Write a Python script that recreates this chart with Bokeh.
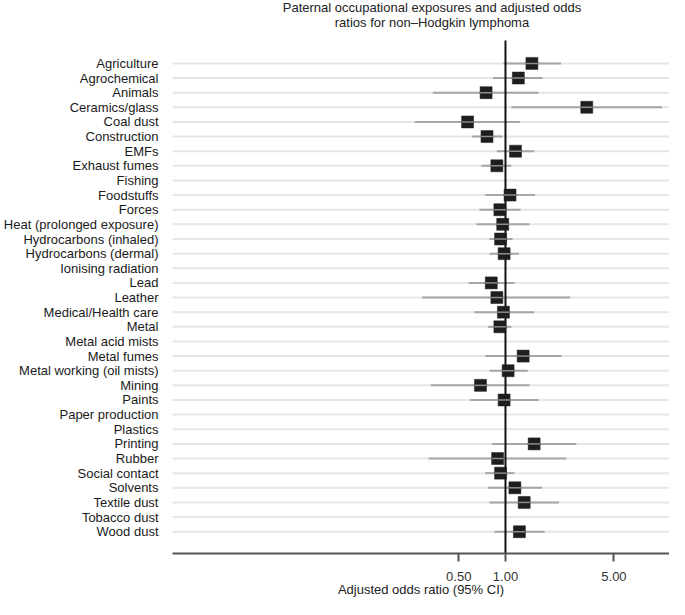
import math
from bokeh.plotting import figure
from bokeh.models import Range1d, FixedTicker, PrintfTickFormatter, Label, ColumnDataSource
from bokeh.embed import file_html
from bokeh.resources import INLINE

NaN = float("nan")

exposures = [
    "Agriculture", "Agrochemical", "Animals", "Ceramics/glass", "Coal dust",
    "Construction", "EMFs", "Exhaust fumes", "Fishing", "Foodstuffs", "Forces",
    "Heat (prolonged exposure)", "Hydrocarbons (inhaled)", "Hydrocarbons (dermal)",
    "Ionising radiation", "Lead", "Leather", "Medical/Health care", "Metal",
    "Metal acid mists", "Metal fumes", "Metal working (oil mists)", "Mining",
    "Paints", "Paper production", "Plastics", "Printing", "Rubber",
    "Social contact", "Solvents", "Textile dust", "Tobacco dust", "Wood dust",
]
odds_ratio = [1.48, 1.21, 0.75, 3.34, 0.57, 0.76, 1.16, 0.88, NaN, 1.07, 0.92,
              0.96, 0.93, 0.98, NaN, 0.81, 0.88, 0.97, 0.92, NaN, 1.30, 1.04,
              0.69, 0.98, NaN, NaN, 1.53, 0.89, 0.93, 1.15, 1.32, NaN, 1.23]
ci_low = [0.97, 0.83, 0.34, 1.09, 0.26, 0.61, 0.88, 0.70, NaN, 0.74, 0.68,
          0.65, 0.79, 0.79, NaN, 0.58, 0.29, 0.63, 0.77, NaN, 0.74, 0.79,
          0.33, 0.59, NaN, NaN, 0.82, 0.32, 0.74, 0.77, 0.79, NaN, 0.85]
ci_high = [2.28, 1.73, 1.63, 10.2, 1.24, 0.96, 1.53, 1.09, NaN, 1.55, 1.25,
           1.43, 1.11, 1.22, NaN, 1.14, 2.61, 1.53, 1.09, NaN, 2.30, 1.39,
           1.43, 1.64, NaN, NaN, 2.86, 2.46, 1.14, 1.72, 2.21, NaN, 1.79]
x_ticks = [0.5, 1.0, 5.0]

title_lines = ["Paternal occupational exposures and adjusted odds",
               "ratios for non\u2013Hodgkin lymphoma"]
x_label = "Adjusted odds ratio (95% CI)"

n = len(exposures)
rows = list(range(n))
X_MIN, X_MAX = 0.00715, 11.40
Y_BOTTOM, Y_TOP = 33.49, -4.297

src = ColumnDataSource(dict(row=rows, name=exposures, orr=odds_ratio,
                            lo=ci_low, hi=ci_high,
                            gx0=[X_MIN] * n, gx1=[X_MAX] * n))

FONT = "Liberation Sans"

p = figure(width=669, height=599, output_backend="svg", toolbar_location=None,
           x_axis_type="log", x_range=Range1d(X_MIN, X_MAX),
           y_range=Range1d(Y_BOTTOM, Y_TOP),
           min_border=0, min_border_left=169, min_border_right=0,
           min_border_top=0, min_border_bottom=45)
p.outline_line_color = None
p.xgrid.visible = False
p.ygrid.visible = False
p.background_fill_color = "white"
p.border_fill_color = "white"

# row guide lines
p.segment(x0="gx0", y0="row", x1="gx1", y1="row", source=src,
          line_color="#e6e6e6", line_width=2)
# confidence intervals
p.segment(x0="lo", y0="row", x1="hi", y1="row", source=src,
          line_color="#a6a6a6", line_width=2)
# reference line at OR = 1
p.segment(x0=[1.0], y0=[-1.57], x1=[1.0], y1=[Y_BOTTOM],
          line_color="#111111", line_width=2)
# point estimates
p.rect(x="orr", y="row", width=12, height=12, width_units="screen",
       height_units="screen", source=src, fill_color="#1e1e1e",
       line_color="#1e1e1e", line_width=0.5)
p.rect(x="orr", y="row", width=12, height=1.5, width_units="screen",
       height_units="screen", source=src, fill_color="#8c8c8c",
       line_color=None)

# y axis (exposure names)
yax = p.yaxis[0]
yax.ticker = FixedTicker(ticks=rows, minor_ticks=[])
yax.major_label_overrides = {i: nm for i, nm in enumerate(exposures)}
yax.axis_line_color = None
yax.major_tick_line_color = None
yax.minor_tick_line_color = None
yax.major_tick_in = 0
yax.major_tick_out = 0
yax.major_label_standoff = 14
yax.major_label_text_font = FONT
yax.major_label_text_font_size = "13px"
yax.major_label_text_color = "#1a1a1a"

# x axis
xax = p.xaxis[0]
xax.ticker = FixedTicker(ticks=x_ticks, minor_ticks=[])
xax.formatter = PrintfTickFormatter(format="%.2f")
xax.axis_line_color = "#555555"
xax.axis_line_width = 2
xax.major_tick_line_color = "#555555"
xax.major_tick_line_width = 2
xax.major_tick_in = 0
xax.major_tick_out = 8
xax.minor_tick_line_color = None
xax.major_label_standoff = 10
xax.major_label_text_font = FONT
xax.major_label_text_font_size = "13px"
xax.major_label_text_color = "#333333"
xax.axis_label = x_label
xax.axis_label_standoff = -2
xax.axis_label_text_font = FONT
xax.axis_label_text_font_size = "13px"
xax.axis_label_text_font_style = "normal"
xax.axis_label_text_color = "#222222"

# title
p.add_layout(Label(x=0.336, y=-3.82, text=title_lines[0], text_align="center",
                   text_baseline="middle", text_font=FONT,
                   text_font_size="13px", text_color="#222222"))
p.add_layout(Label(x=0.336, y=-2.80, text=title_lines[1], text_align="center",
                   text_baseline="middle", text_font=FONT,
                   text_font_size="13px", text_color="#222222"))

open("out.html", "w").write(file_html(p, INLINE))
